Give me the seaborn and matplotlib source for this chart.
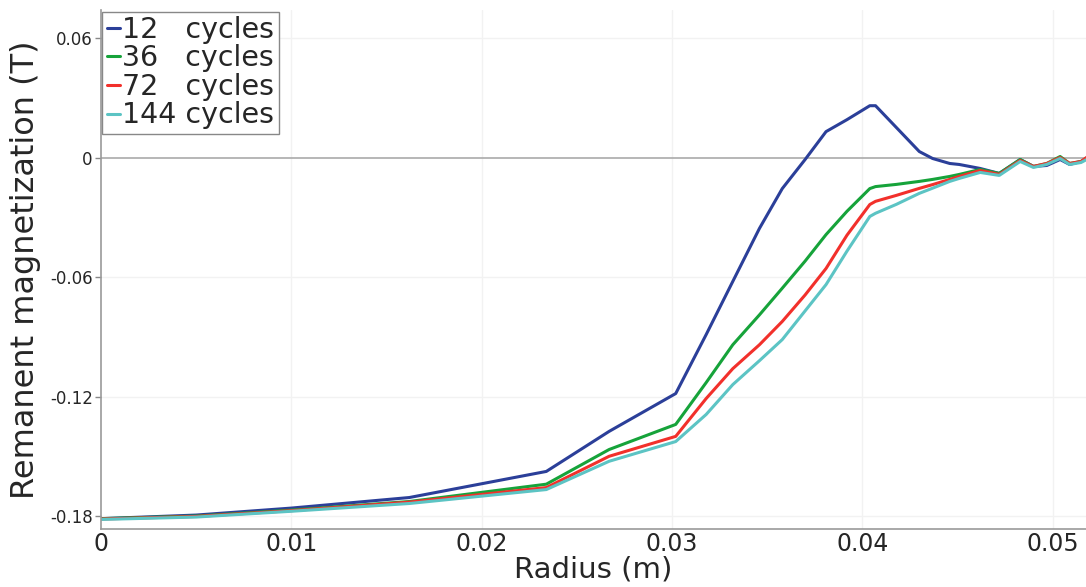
import numpy as np
import pandas as pd
import matplotlib
matplotlib.use("Agg")
import matplotlib.pyplot as plt
import seaborn as sns

radius = [0, 0.005, 0.01, 0.0162, 0.0234, 0.0267, 0.0302, 0.0318, 0.0332, 0.0346,
          0.0358, 0.0370, 0.0381, 0.0392, 0.0404, 0.0407, 0.0418, 0.0430, 0.0437, 0.0446,
          0.0451, 0.0462, 0.0472, 0.0483, 0.0490, 0.0497, 0.0504, 0.0509, 0.0515, 0.0520]

m_12 = [-0.1813, -0.1795, -0.1760, -0.1707, -0.1576, -0.1375, -0.1185, -0.0889, -0.0622, -0.0356,
        -0.0156, -0.0010, 0.0130, 0.0190, 0.0260, 0.0260, 0.0150, 0.0030, -0.0005, -0.0030,
        -0.0035, -0.0055, -0.0080, -0.0010, -0.0045, -0.0040, -0.0010, -0.0035, -0.0020, 0.0005]
m_36 = [-0.1813, -0.1800, -0.1770, -0.1727, -0.1640, -0.1466, -0.1340, -0.1130, -0.0940, -0.0790,
        -0.0656, -0.0520, -0.0387, -0.0270, -0.0156, -0.0146, -0.0135, -0.0120, -0.0110, -0.0095,
        -0.0085, -0.0060, -0.0080, -0.0010, -0.0045, -0.0030, 0.0005, -0.0030, -0.0020, 0.0010]
m_72 = [-0.1815, -0.1802, -0.1773, -0.1730, -0.1657, -0.1500, -0.1400, -0.1210, -0.1060, -0.0940,
        -0.0823, -0.0690, -0.0557, -0.0390, -0.0236, -0.0220, -0.0190, -0.0155, -0.0136, -0.0110,
        -0.0095, -0.0065, -0.0085, -0.0015, -0.0045, -0.0030, 0.0000, -0.0030, -0.0020, 0.0015]
m_144 = [-0.1817, -0.1805, -0.1776, -0.1737, -0.1667, -0.1525, -0.1426, -0.1290, -0.1140, -0.1020,
         -0.0914, -0.0770, -0.0638, -0.0470, -0.0296, -0.0280, -0.0235, -0.0180, -0.0154, -0.0120,
         -0.0105, -0.0075, -0.0090, -0.0020, -0.0050, -0.0035, -0.0005, -0.0035, -0.0025, 0.0000]

series_labels = ["12   cycles", "36   cycles", "72   cycles", "144 cycles"]
series_values = [m_12, m_36, m_72, m_144]
colors = ["#2b3f99", "#16a33a", "#f2302b", "#5cc4c4"]

x_ticks = [0, 0.01, 0.02, 0.03, 0.04, 0.05]
x_tick_labels = ["0", "0.01", "0.02", "0.03", "0.04", "0.05"]
y_ticks = [-0.18, -0.12, -0.06, 0, 0.06]
y_tick_labels = ["-0.18", "-0.12", "-0.06", "0", "0.06"]

df = pd.concat([pd.DataFrame({"Radius": radius, "M": v, "series": lab})
                for lab, v in zip(series_labels, series_values)], ignore_index=True)

sns.set_theme(style="white")
plt.rcParams['font.family'] = ['DejaVu Sans']

fig = plt.figure(figsize=(10.86, 5.87), dpi=100)
ax = fig.add_axes([0.093, 0.0988, 0.907, 0.884])

for xt in x_ticks[1:]:
    ax.axvline(xt, color="#f2f2f2", lw=1.0, zorder=0)
for yt in y_ticks:
    if yt != 0:
        ax.axhline(yt, color="#f2f2f2", lw=1.0, zorder=0)
ax.axhline(0, color="#aaaaaa", lw=1.2, zorder=1)

sns.lineplot(data=df, x="Radius", y="M", hue="series", palette=colors,
             linewidth=2.2, ax=ax, sort=False, estimator=None)

ax.set_xlim(0, 0.05176)
ax.set_ylim(-0.1865, 0.074)
ax.set_xticks(x_ticks)
ax.set_xticklabels(x_tick_labels, fontsize=17)
ax.set_yticks(y_ticks)
ax.set_yticklabels(y_tick_labels, fontsize=12)
ax.tick_params(axis='both', length=4, color="#888888", width=1, pad=2)
ax.tick_params(axis='x', bottom=True, length=0, pad=2)
ax.tick_params(axis='y', left=True)

for s in ["top", "right"]:
    ax.spines[s].set_visible(False)
for s in ["left", "bottom"]:
    ax.spines[s].set_color("#999999")
    ax.spines[s].set_linewidth(1.2)

ax.set_xlabel("Radius (m)", fontsize=21, labelpad=0)
ax.set_ylabel("Remanent magnetization (T)", fontsize=23, labelpad=6)

leg = ax.legend(loc="upper left", fontsize=20.5, frameon=True, fancybox=False,
                handlelength=0.45, handletextpad=0.1, borderpad=0.15, labelspacing=0.02,
                borderaxespad=0.05, title=None)
leg.get_frame().set_edgecolor("#888888")
leg.get_frame().set_linewidth(1.0)
leg.get_frame().set_alpha(1.0)

fig.savefig("out.png", dpi=100)
